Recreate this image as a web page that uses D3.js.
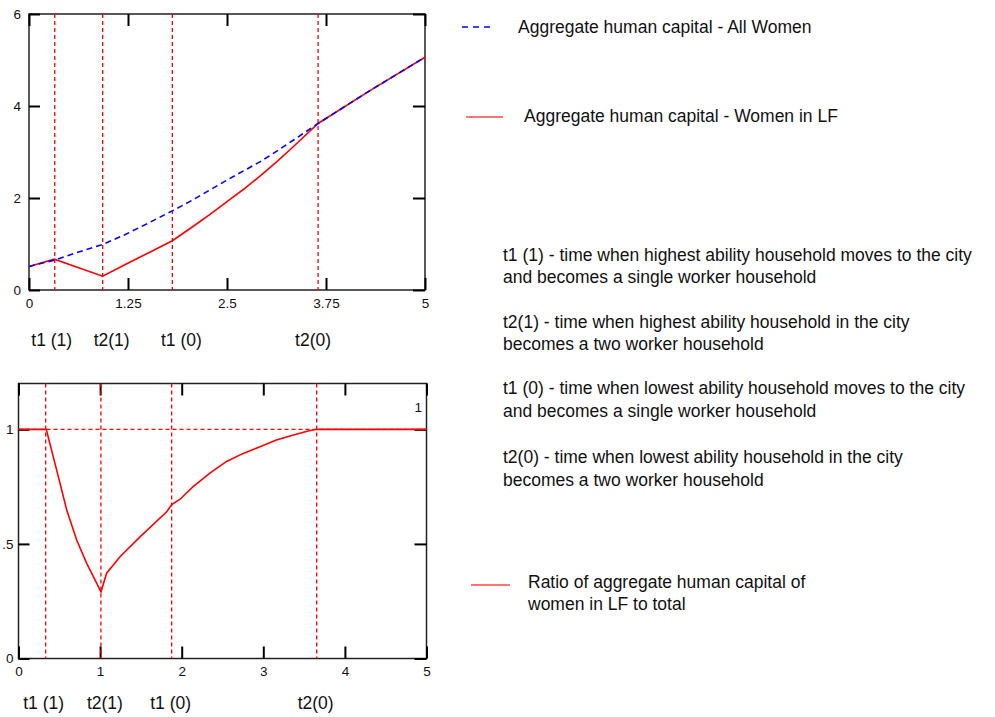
<!DOCTYPE html>
<html><head><meta charset="utf-8">
<script src="https://cdn.jsdelivr.net/npm/d3@7"></script>
<style>
body{margin:0;background:#fff;}
text{font-family:Arial,"Liberation Sans",sans-serif;fill:#111;}
</style></head>
<body><svg id="c" width="995" height="717"></svg>
<script>
// ---------- data ----------
const topX      = [0, 0.32, 0.6, 0.93, 1.21, 1.5, 1.81, 2.07, 2.29, 2.5, 2.71, 2.92, 3.13, 3.34, 3.65, 4.3, 5];
const allWomen  = [0.51, 0.65, 0.81, 0.99, 1.2, 1.45, 1.72, 1.96, 2.18, 2.39, 2.59, 2.79, 3.02, 3.26, 3.62, 4.33, 5.06];
const lfWomen   = [0.51, 0.67, 0.50, 0.30, 0.55, 0.80, 1.07, 1.38, 1.65, 1.92, 2.19, 2.48, 2.79, 3.12, 3.62, 4.33, 5.06];
const topEvents = [0.325, 0.93, 1.81, 3.65];
const topXTicks = [0, 1.25, 2.5, 3.75, 5];
const topXLabels = ["0", "1.25", "2.5", "3.75", "5"];
const topYTicks = [0, 2, 4, 6];
const topYLabels = ["0", "2", "4", "6"];

const botX      = [0, 0.34, 0.468, 0.591, 0.713, 0.836, 1.011, 1.08, 1.244, 1.489, 1.816, 1.877, 1.98, 2.14, 2.35, 2.55, 2.755, 2.96, 3.16, 3.37, 3.55, 3.654, 5];
const ratio     = [1, 1, 0.822, 0.648, 0.517, 0.415, 0.291, 0.372, 0.444, 0.531, 0.64, 0.672, 0.695, 0.75, 0.81, 0.86, 0.895, 0.924, 0.953, 0.975, 0.993, 1, 1];
const botEvents = [0.333, 1.01, 1.877, 3.654];
const botXTicks = [0, 1, 2, 3, 4, 5];
const botXLabels = ["0", "1", "2", "3", "4", "5"];
const botYTicks = [0, 0.5, 1];
const botYLabels = ["0", ".5", "1"];
const refLevel = 1;

const eventNames = ["t1 (1)", "t2(1)", "t1 (0)", "t2(0)"];
const legendTop = ["Aggregate human capital - All Women", "Aggregate human capital - Women in LF"];
const legendBot = ["Ratio of aggregate human capital of", "women in LF to total"];
const notes = [
  ["t1 (1) - time when highest ability household moves to the city", "and becomes a single worker household"],
  ["t2(1) - time when highest ability household in the city", "becomes a two worker household"],
  ["t1 (0) - time when lowest ability household moves to the city", "and becomes a single worker household"],
  ["t2(0) - time when lowest ability household in the city", "becomes a two worker household"]
];

// ---------- drawing ----------
const svg = d3.select("#c");
const RED = "#ff0000", BLUE = "#0000ff";

function panel(cfg){
  const x = d3.scaleLinear().domain([0,5]).range([cfg.x0, cfg.x1]);
  const y = d3.scaleLinear().domain(cfg.yDom).range([cfg.y1, cfg.y0]);
  const g = svg.append("g");
  g.append("rect").attr("x",cfg.x0).attr("y",cfg.y0)
    .attr("width",cfg.x1-cfg.x0).attr("height",cfg.y1-cfg.y0)
    .attr("fill","none").attr("stroke","#222").attr("stroke-width",1.5);
  const style = sel => { sel.select(".domain").remove();
    sel.selectAll(".tick line").attr("stroke","#000").attr("stroke-width",2);
    sel.selectAll(".tick text").style("font-size","13.5px").attr("fill","#111"); };
  g.append("g").attr("transform",`translate(0,${cfg.y1})`)
    .call(d3.axisBottom(x).tickValues(cfg.xTicks).tickSize(-12).tickSizeOuter(0).tickPadding(8)
      .tickFormat((d,i)=>cfg.xLabels[i])).call(style);
  g.append("g").attr("transform",`translate(0,${cfg.y0})`)
    .call(d3.axisTop(x).tickValues(cfg.xTicks).tickSize(-12).tickSizeOuter(0).tickFormat("")).call(style);
  g.append("g").attr("transform",`translate(${cfg.x0},0)`)
    .call(d3.axisLeft(y).tickValues(cfg.yTicks).tickSize(-11).tickSizeOuter(0).tickPadding(cfg.yPad)
      .tickFormat((d,i)=>cfg.yLabels[i])).call(style);
  g.append("g").attr("transform",`translate(${cfg.x1},0)`)
    .call(d3.axisRight(y).tickValues(cfg.yTicks).tickSize(-12).tickSizeOuter(0).tickFormat("")).call(style);
  g.selectAll(".ev").data(cfg.events).join("line")
    .attr("x1",d=>x(d)).attr("x2",d=>x(d)).attr("y1",cfg.y0).attr("y2",cfg.y1)
    .attr("stroke",RED).attr("stroke-width",1.3).attr("stroke-dasharray","4,3");
  g.selectAll(".en").data(cfg.events).join("text")
    .attr("x",(d,i)=>x(d)+cfg.nameDx[i]).attr("y",cfg.nameY)
    .attr("text-anchor","middle").style("font-size","17.5px").text((d,i)=>eventNames[i]);
  return {x,y,g};
}

const P1 = panel({x0:29,x1:425,y0:14,y1:290,yDom:[0,6],xTicks:topXTicks,xLabels:topXLabels,
  yTicks:topYTicks,yLabels:topYLabels,yPad:8,events:topEvents,nameY:346,nameDx:[-3,9,9,-5]});
const line1 = d3.line().x((d,i)=>P1.x(topX[i])).y(d=>P1.y(d));
P1.g.append("path").attr("d",line1(lfWomen)).attr("fill","none").attr("stroke",RED).attr("stroke-width",1.6);
P1.g.append("path").attr("d",line1(allWomen)).attr("fill","none").attr("stroke",BLUE).attr("stroke-width",1.6).attr("stroke-dasharray","6,4");

const P2 = panel({x0:18.5,x1:426.5,y0:383.5,y1:658.5,yDom:[0,1.2],xTicks:botXTicks,xLabels:botXLabels,
  yTicks:botYTicks,yLabels:botYLabels,yPad:5,events:botEvents,nameY:709,nameDx:[-2,4,-1,-1]});
P2.g.append("line").attr("x1",P2.x(0)).attr("x2",P2.x(5)).attr("y1",P2.y(refLevel)).attr("y2",P2.y(refLevel))
  .attr("stroke",RED).attr("stroke-width",1.3).attr("stroke-dasharray","4,3");
const line2 = d3.line().x((d,i)=>P2.x(botX[i])).y(d=>P2.y(d));
P2.g.append("path").attr("d",line2(ratio)).attr("fill","none").attr("stroke",RED).attr("stroke-width",1.6);
P2.g.append("text").attr("x",P2.x(4.9)).attr("y",P2.y(1.075)).attr("text-anchor","middle")
  .style("font-size","13.5px").text(String(refLevel));

svg.append("line").attr("x1",462).attr("x2",495).attr("y1",27).attr("y2",27)
  .attr("stroke",BLUE).attr("stroke-width",1.3).attr("stroke-dasharray","6,5");
svg.append("text").attr("x",518).attr("y",33).style("font-size","17.5px").text(legendTop[0]);
svg.append("line").attr("x1",466).attr("x2",503).attr("y1",117).attr("y2",117)
  .attr("stroke","#ff4444").attr("stroke-width",1.5);
svg.append("text").attr("x",524).attr("y",122).style("font-size","17.5px").text(legendTop[1]);

const noteY = [[261,283],[328,350],[394,417],[463,486]];
notes.forEach((pair,i)=>pair.forEach((t,j)=>
  svg.append("text").attr("x",503).attr("y",noteY[i][j]).style("font-size","17.5px").text(t)));

svg.append("line").attr("x1",471).attr("x2",510).attr("y1",585).attr("y2",585)
  .attr("stroke","#ff4444").attr("stroke-width",1.5);
legendBot.forEach((t,j)=>svg.append("text").attr("x",528).attr("y",588+j*22).style("font-size","17.5px").text(t));
</script></body></html>
